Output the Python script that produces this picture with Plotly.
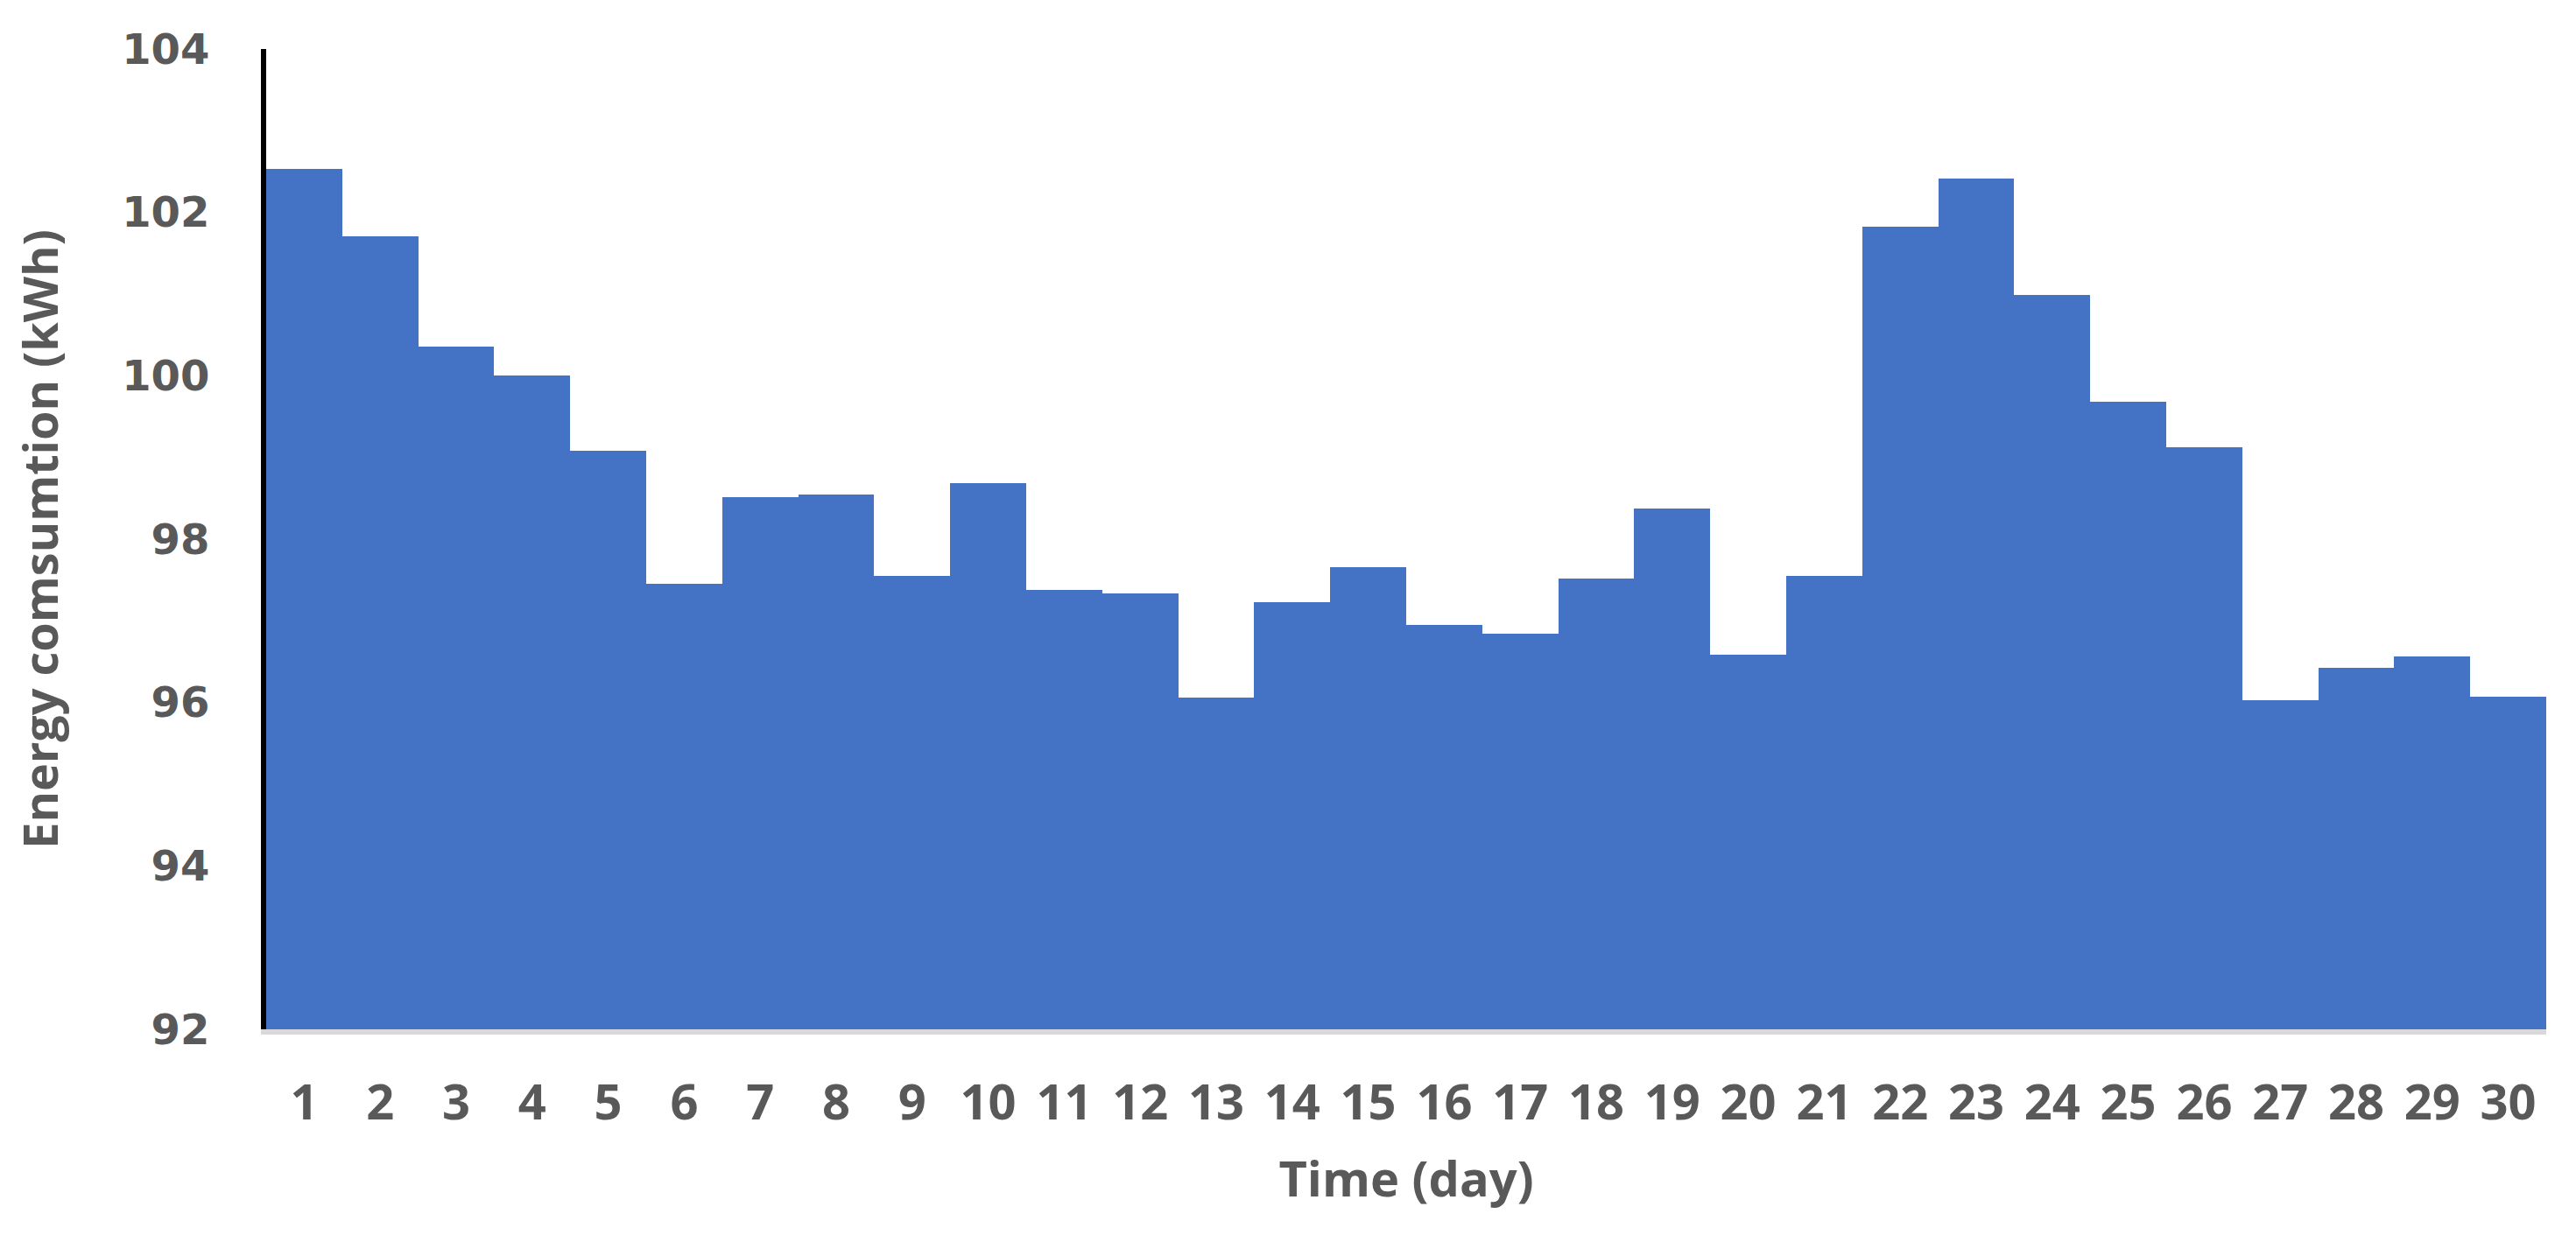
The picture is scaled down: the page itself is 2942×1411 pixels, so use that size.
import plotly.graph_objects as go

# Daily energy consumption (kWh)
days = [str(d) for d in range(1, 31)]
energy_kwh = [
    102.53, 101.71, 100.36, 100.00, 99.08, 97.45, 98.51, 98.55, 97.55, 98.69,
    97.38, 97.34, 96.06, 97.23, 97.66, 96.95, 96.84, 97.52, 98.37, 96.59,
    97.55, 101.82, 102.41, 100.99, 99.68, 99.12, 96.03, 96.42, 96.56, 96.07,
]
y_ticks = [92, 94, 96, 98, 100, 102, 104]

BAR_BLUE = "#4472C4"
TEXT_GRAY = "#595959"

fig = go.Figure()
fig.add_trace(go.Bar(
    x=days,
    y=energy_kwh,
    marker=dict(color=BAR_BLUE, line=dict(width=0)),
    showlegend=False,
))

# page body has an 8px margin, so margins are shifted by that amount
fig.update_layout(
    width=2942,
    height=1411,
    margin=dict(l=296, r=42, t=48, b=243),
    plot_bgcolor="white",
    paper_bgcolor="white",
    bargap=0,
    xaxis=dict(
        type="category",
        showgrid=False,
        showline=True,
        linecolor="#d9d9d9",
        linewidth=6,
        ticks="",
        ticklabelstandoff=30,
        tickfont=dict(family="Open Sans", size=56, color=TEXT_GRAY, weight="bold"),
        title=dict(
            text="Time (day)",
            font=dict(family="Open Sans", size=56, color=TEXT_GRAY, weight="bold"),
            standoff=36,
        ),
    ),
    yaxis=dict(
        range=[92, 104],
        tickvals=y_ticks,
        showgrid=False,
        zeroline=False,
        showline=True,
        linecolor="black",
        linewidth=6,
        ticks="",
        ticklabelstandoff=49,
        tickfont=dict(family="DejaVu Sans", size=48, color=TEXT_GRAY, weight="bold"),
        title=dict(
            text="Energy comsumtion (kWh)",
            font=dict(family="Open Sans", size=54, color=TEXT_GRAY, weight="bold"),
            standoff=62,
        ),
    ),
)

fig.write_html("out.html")
